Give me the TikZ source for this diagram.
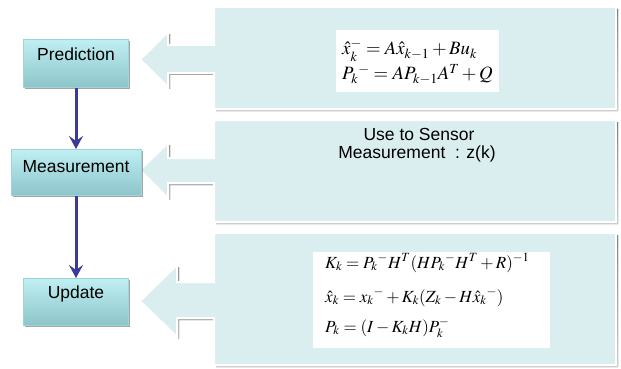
\documentclass[tikz,border=0pt]{standalone}
\usepackage{mathptmx}
\usepackage[no-math]{fontspec}
\newfontfamily\arial{Liberation Sans}
\usetikzlibrary{arrows.meta,shadows}

\definecolor{panel}{HTML}{DAEDEF}
\definecolor{boxtop}{HTML}{C0EFF3}
\definecolor{boxbot}{HTML}{8CC5CA}
\definecolor{boxedge}{HTML}{9ED3D7}
\definecolor{flowblue}{HTML}{3A3A9A}
\definecolor{shade}{HTML}{B4B4B4}

% left-pointing callout: #1 top, #2 bottom, #3/#4 shaft top/bottom,
% #5/#6 head top/bottom, #7 head base x, #8 tip y
\newcommand\panelshape[8]{%
  (214,#1) -- (616,#1) -- (616,#2) -- (214,#2) -- (214,#4) -- (#7,#4) --
  (#7,#6) -- (140,#8) -- (#7,#5) -- (#7,#3) -- (214,#3) -- cycle}

\newcommand\drawpanel[8]{%
  \fill[shade, opacity=0.7, shift={(2,2)}] \panelshape{#1}{#2}{#3}{#4}{#5}{#6}{#7}{#8};
  \path[callout] \panelshape{#1}{#2}{#3}{#4}{#5}{#6}{#7}{#8};}

\begin{document}
\begin{tikzpicture}[x=1pt,y=-1pt,
  callout/.style={fill=panel, draw=white, line width=2pt, line join=miter},
  stage/.style={draw=boxedge, line width=0.6pt, top color=boxtop, bottom color=boxbot,
    inner sep=0pt, anchor=north, font=\arial\fontsize{17.5}{20}\selectfont,
    drop shadow={shadow xshift=1.5pt, shadow yshift=-1.8pt, fill=black, opacity=0.35}},
  eqline/.style={anchor=base west, inner sep=0pt},
  predeq/.style={eqline, font=\fontsize{18.8}{22}\selectfont},
  updeq/.style={eqline, font=\fontsize{17}{20}\selectfont},
  note/.style={anchor=base, inner sep=0pt, font=\arial\fontsize{17.5}{20}\selectfont},
  flow/.style={draw=flowblue, line width=3pt,
    -{Stealth[length=13pt, width=14pt, inset=5pt]}}]

\useasboundingbox (0,0) rectangle (621,369);
\fill[white] (0,0) rectangle (621,369);

% callout panels
\drawpanel{7}{109}{45}{73}{32}{87}{168}{59.5}
\drawpanel{120}{222}{158}{183}{143}{198}{168}{170}
\drawpanel{233}{365}{282}{318}{265}{337}{177}{301}

% white formula backgrounds
\fill[white] (336,30) rectangle (499,92);
\fill[white] (313,252) rectangle (550,348);

% prediction equations
\node[predeq] (p1) at (342,55) {$\hat{x}_k^{-} = A\hat{x}_{k-1} + Bu_k$};
\node[predeq] (p2) at (342,80) {$P_k{}^{-} = AP_{k-1}A^T + Q$};

% measurement note
\node[note] (m1) at (419,140) {Use to Sensor};
\node[note] (m2) at (417,158) {Measurement\ \ : z(k)};

% update equations
\node[updeq] (u1) at (325,268) {$K_k = P_k{}^{-}H^T(HP_k{}^{-}H^T + R)^{-1}$};
\node[updeq] (u2) at (325,302) {$\hat{x}_k = x_k{}^{-} + K_k(Z_k - H\hat{x}_k{}^{-})$};
\node[updeq] (u3) at (325,332) {$P_k = (I - K_kH)P_k^{-}$};

% stage boxes
\node[stage, minimum width=105pt, text height=21pt, text depth=27pt] (pred) at (76,39) {Prediction};
\node[stage, minimum width=130pt, text height=23pt, text depth=23pt] (meas) at (76,149) {Measurement};
\node[stage, minimum width=105pt, text height=20pt, text depth=27pt] (upd) at (76,278) {Update};

% flow between stages
\draw[flow] (pred.south) -- (meas.north);
\draw[flow] (meas.south) -- (upd.north);
\end{tikzpicture}
\end{document}
